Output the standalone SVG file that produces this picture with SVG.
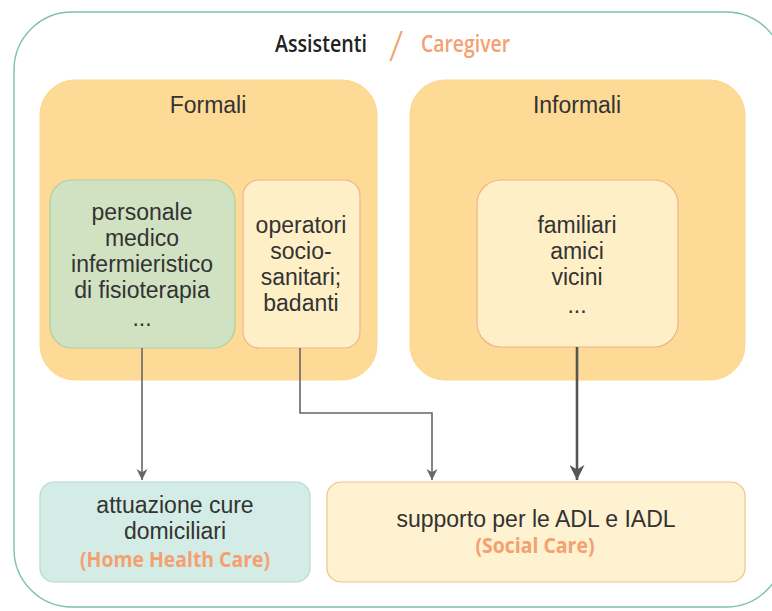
<svg xmlns="http://www.w3.org/2000/svg" width="772" height="611" viewBox="0 0 772 611">
  <style>
    .lbl { font-family: "Liberation Sans", Arial, sans-serif; font-size: 23px; fill: #333333; text-anchor: middle; }
    .ttl { font-family: "Open Sans", "Liberation Sans", sans-serif; font-weight: 600; font-size: 23px; text-anchor: start; }
    .acc { font-family: "Open Sans", "Liberation Sans", sans-serif; font-weight: 700; font-size: 21px; fill: #F4A070; text-anchor: middle; }
    .group { fill: #FDDA96; stroke: #FCD68E; stroke-width: 1; }
    .warm { fill: #FFEFC6; stroke: #F2B48A; stroke-width: 1.2; }
    .edge { fill: none; stroke: #666666; stroke-width: 1.6; }
    .edge-bold { fill: none; stroke: #555555; stroke-width: 2.6; }
  </style>
  <defs>
    <marker id="arrow" viewBox="0 0 10 10" refX="10" refY="5" markerUnits="userSpaceOnUse" markerWidth="11" markerHeight="12" orient="auto">
      <path d="M0,0 L10,5 L0,10 L3,5 Z" fill="#666666"/>
    </marker>
    <marker id="arrow-lg" viewBox="0 0 10 10" refX="10" refY="5" markerUnits="userSpaceOnUse" markerWidth="16" markerHeight="15" orient="auto">
      <path d="M0,0 L10,5 L0,10 L3,5 Z" fill="#555555"/>
    </marker>
  </defs>

  <rect width="772" height="611" fill="#FFFFFF"/>

  <!-- outer frame -->
  <g id="frame">
    <rect x="14" y="12" width="770" height="595" rx="58" ry="58" fill="#FFFFFF" stroke="#7FBFB0" stroke-width="1.4"/>
    <text class="ttl" x="275" y="52" fill="#222222" textLength="92" lengthAdjust="spacingAndGlyphs">Assistenti</text>
    <text x="389" y="61" font-family="Open Sans, Liberation Sans, sans-serif" font-size="42" fill="#F4A070" font-weight="300">/</text>
    <text class="ttl" x="421" y="52" fill="#F4A070" textLength="89" lengthAdjust="spacingAndGlyphs">Caregiver</text>
  </g>

  <!-- group containers -->
  <g id="formali">
    <rect class="group" x="40" y="80" width="337" height="300" rx="35" ry="35"/>
    <text class="lbl" x="208" y="113">Formali</text>
  </g>
  <g id="informali">
    <rect class="group" x="410" y="80" width="335" height="300" rx="35" ry="35"/>
    <text class="lbl" x="577" y="113">Informali</text>
  </g>

  <!-- inner nodes -->
  <g id="personale">
    <rect x="50" y="180" width="185" height="168" rx="22" ry="22" fill="#D0E2C2" stroke="#A9D1A3" stroke-width="1.2"/>
    <text class="lbl" x="142" y="220">personale</text>
    <text class="lbl" x="142" y="246">medico</text>
    <text class="lbl" x="142" y="272">infermieristico</text>
    <text class="lbl" x="142" y="298">di fisioterapia</text>
    <text class="lbl" x="142" y="326">...</text>
  </g>
  <g id="operatori">
    <rect class="warm" x="243" y="180" width="117" height="168" rx="16" ry="16"/>
    <text class="lbl" x="301" y="233">operatori</text>
    <text class="lbl" x="301" y="259">socio-</text>
    <text class="lbl" x="301" y="285">sanitari;</text>
    <text class="lbl" x="301" y="311">badanti</text>
  </g>
  <g id="familiari">
    <rect class="warm" x="477" y="180" width="201" height="167" rx="24" ry="24"/>
    <text class="lbl" x="577" y="233">familiari</text>
    <text class="lbl" x="577" y="259">amici</text>
    <text class="lbl" x="577" y="285">vicini</text>
    <text class="lbl" x="577" y="313">...</text>
  </g>

  <!-- outcome nodes -->
  <g id="cure-domiciliari">
    <rect x="40" y="482" width="270" height="100" rx="14" ry="14" fill="#D3EDE6" stroke="#B3DBD0" stroke-width="1.2"/>
    <text class="lbl" x="175" y="513">attuazione cure</text>
    <text class="lbl" x="175" y="539">domiciliari</text>
    <text class="acc" x="175" y="567" textLength="190" lengthAdjust="spacingAndGlyphs">(Home Health Care)</text>
  </g>
  <g id="supporto-adl">
    <rect x="327" y="482" width="418" height="100" rx="14" ry="14" fill="#FFF2D0" stroke="#F2BF8C" stroke-width="1.2"/>
    <text class="lbl" x="536" y="527">supporto per le ADL e IADL</text>
    <text class="acc" x="535" y="553" textLength="119" lengthAdjust="spacingAndGlyphs">(Social Care)</text>
  </g>

  <!-- connectors -->
  <g id="connectors">
    <path class="edge" d="M142,348 L142,480" marker-end="url(#arrow)"/>
    <path class="edge" d="M300,348 L300,413 L432,413 L432,480" marker-end="url(#arrow)"/>
    <path class="edge-bold" d="M577,347 L577,480" marker-end="url(#arrow-lg)"/>
  </g>
</svg>
